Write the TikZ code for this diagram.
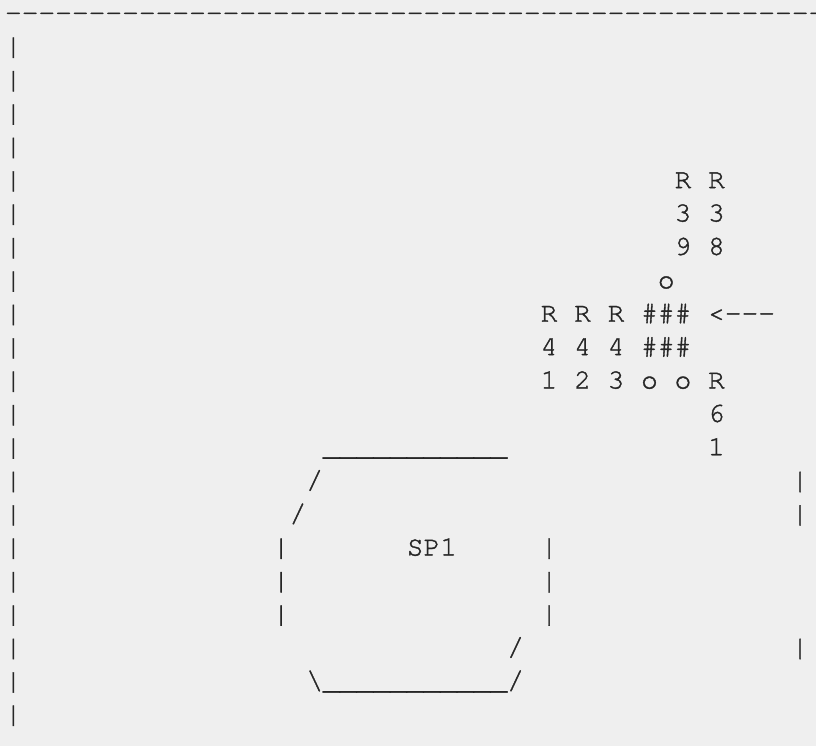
\documentclass[tikz,border=0pt]{standalone}
\usepackage{fontspec}
\newfontfamily\asciifont[FakeBold=1.3]{texgyrecursor-regular.otf}
\definecolor{bgc}{HTML}{EFEFEF}
\definecolor{ink}{HTML}{262626}
\tikzset{ch/.style={anchor=base west, inner sep=0pt, outer sep=0pt, text=ink,
  font=\asciifont\fontsize{20.925pt}{25pt}\selectfont\bfseries}}
\newcommand\cx[1]{5+#1*16.74}
\newcommand\ly[1]{21.1+#1*33.4}
\newcommand\glyph[4]{\node[ch] (#1) at ({\cx{#2}},{\ly{#3}}) {#4};}
\begin{document}
\begin{tikzpicture}[x=0.75pt,y=-0.75pt]
\fill[bgc] (0,0) rectangle (816,746);
\useasboundingbox (0,0) rectangle (816,746);
% top dashed border
\foreach \c in {0,...,48} {\node[ch] (dash\c) at ({\cx{\c}},{\ly{0}}) {-};}
% left border
\foreach \l in {1,...,21} {\node[ch] (lb\l) at ({\cx{0}},{\ly{\l}}) {|};}
% right border (mostly outside the frame)
\foreach \l in {1,2,3,4,5,6,7,8,9,10,11,12,13,16,17,18,20,21} {\node[ch] (rb\l) at ({\cx{48}},{\ly{\l}}) {|};}
\glyph{rc14}{47}{14}{|}
\glyph{rc15}{47}{15}{|}
\glyph{rc19}{47}{19}{|}
% R39 / R38
\glyph{r39a}{40}{5}{R}\glyph{r38a}{42}{5}{R}
\glyph{r39b}{40}{6}{3}\glyph{r38b}{42}{6}{3}
\glyph{r39c}{40}{7}{9}\glyph{r38c}{42}{7}{8}
\glyph{o1}{39}{8}{o}
% row of R41..R43, ### and arrow
\glyph{r41a}{32}{9}{R}\glyph{r42a}{34}{9}{R}\glyph{r43a}{36}{9}{R}
\glyph{h1}{38}{9}{\#}\glyph{h2}{39}{9}{\#}\glyph{h3}{40}{9}{\#}
\glyph{arr0}{42}{9}{<}\glyph{arr1}{43}{9}{-}\glyph{arr2}{44}{9}{-}\glyph{arr3}{45}{9}{-}
\glyph{r41b}{32}{10}{4}\glyph{r42b}{34}{10}{4}\glyph{r43b}{36}{10}{4}
\glyph{h4}{38}{10}{\#}\glyph{h5}{39}{10}{\#}\glyph{h6}{40}{10}{\#}
\glyph{r41c}{32}{11}{1}\glyph{r42c}{34}{11}{2}\glyph{r43c}{36}{11}{3}
\glyph{o2}{38}{11}{o}\glyph{o3}{40}{11}{o}
\glyph{r61a}{42}{11}{R}\glyph{r61b}{42}{12}{6}\glyph{r61c}{42}{13}{1}
% SP1 outline
\foreach \c in {19,...,29} {\node[ch] (top\c) at ({\cx{\c}},{\ly{13}}) {\_};}
\foreach \c in {19,...,29} {\node[ch] (bot\c) at ({\cx{\c}},{\ly{20}}) {\_};}
\glyph{s14}{18}{14}{/}
\glyph{s15}{17}{15}{/}
\glyph{bl16}{16}{16}{|}\glyph{br16}{32}{16}{|}
\glyph{bl17}{16}{17}{|}\glyph{br17}{32}{17}{|}
\glyph{bl18}{16}{18}{|}\glyph{br18}{32}{18}{|}
\glyph{s19}{30}{19}{/}
\glyph{bs20}{18}{20}{\textbackslash}
\glyph{s20}{30}{20}{/}
\glyph{sp1}{24}{16}{SP1}
\end{tikzpicture}
\end{document}
